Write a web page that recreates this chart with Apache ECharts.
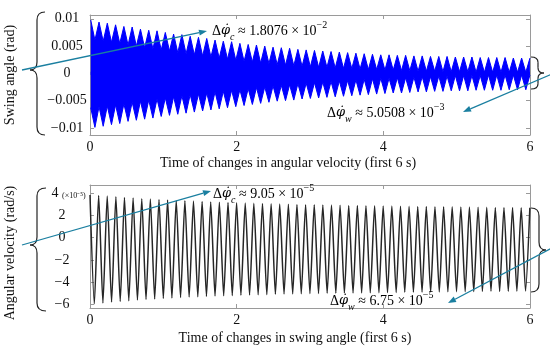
<!DOCTYPE html>
<html><head><meta charset="utf-8">
<script src="https://cdn.jsdelivr.net/npm/echarts@6/dist/echarts.min.js"></script>
<style>html,body{margin:0;padding:0;background:#fff}#c{width:550px;height:351px}</style>
</head><body><div id="c"></div>
<script>
// ---- Top panel: swing angle (rad), upper / lower edges of the blue band ----
const swingPeakTimes = [0.010,0.123,0.236,0.349,0.462,0.575,0.688,0.801,0.914,1.027,1.140,1.253,1.366,1.479,1.592,1.705,1.818,1.931,2.044,2.157,2.270,2.383,2.496,2.609,2.722,2.835,2.948,3.061,3.174,3.287,3.400,3.513,3.626,3.739,3.852,3.965,4.078,4.191,4.304,4.417,4.530,4.643,4.756,4.869,4.982,5.095,5.208,5.321,5.434,5.547,5.660,5.773,5.886,5.999];
const swingTroughTimes = [0.067,0.180,0.293,0.406,0.519,0.632,0.745,0.858,0.971,1.084,1.197,1.310,1.423,1.536,1.649,1.762,1.875,1.988,2.101,2.214,2.327,2.440,2.553,2.666,2.779,2.892,3.005,3.118,3.231,3.344,3.457,3.570,3.683,3.796,3.909,4.022,4.135,4.248,4.361,4.474,4.587,4.700,4.813,4.926,5.039,5.152,5.265,5.378,5.491,5.604,5.717,5.830,5.943];
const swingUpperAtPeaks = [0.0098,0.0094,0.0092,0.0089,0.0086,0.0085,0.0081,0.0079,0.0078,0.0075,0.0072,0.0071,0.0068,0.0066,0.0064,0.0061,0.0059,0.0058,0.0055,0.0053,0.0052,0.0050,0.0048,0.0047,0.0046,0.0044,0.0043,0.0042,0.0041,0.0040,0.0039,0.0038,0.0037,0.0036,0.0035,0.0034,0.0034,0.0033,0.0033,0.0032,0.0032,0.0031,0.0031,0.0031,0.0030,0.0030,0.0030,0.0029,0.0029,0.0029,0.0029,0.0028,0.0028,0.0028];
const swingUpperAtTroughs = [0.0061,0.0059,0.0057,0.0055,0.0052,0.0050,0.0047,0.0045,0.0043,0.0041,0.0038,0.0036,0.0034,0.0032,0.0030,0.0028,0.0026,0.0024,0.0022,0.0021,0.0019,0.0018,0.0016,0.0015,0.0014,0.0013,0.0012,0.0011,0.0011,0.0010,0.0009,0.0009,0.0008,0.0007,0.0007,0.0006,0.0006,0.0005,0.0005,0.0004,0.0004,0.0004,0.0003,0.0003,0.0003,0.0003,0.0002,0.0002,0.0002,0.0002,0.0002,0.0002,0.0002];
const swingLowerAtPeaks = [-0.0063,-0.0061,-0.0060,-0.0058,-0.0056,-0.0053,-0.0051,-0.0049,-0.0047,-0.0045,-0.0043,-0.0041,-0.0039,-0.0038,-0.0036,-0.0034,-0.0033,-0.0031,-0.0030,-0.0028,-0.0026,-0.0025,-0.0023,-0.0022,-0.0021,-0.0019,-0.0018,-0.0017,-0.0016,-0.0015,-0.0014,-0.0013,-0.0012,-0.0011,-0.0010,-0.0009,-0.0009,-0.0008,-0.0008,-0.0007,-0.0006,-0.0006,-0.0005,-0.0005,-0.0004,-0.0004,-0.0004,-0.0004,-0.0003,-0.0003,-0.0003,-0.0003,-0.0003,-0.0003];
const swingLowerAtTroughs = [-0.0099,-0.0097,-0.0094,-0.0092,-0.0088,-0.0086,-0.0084,-0.0082,-0.0079,-0.0077,-0.0075,-0.0073,-0.0071,-0.0069,-0.0067,-0.0065,-0.0063,-0.0061,-0.0059,-0.0057,-0.0055,-0.0053,-0.0051,-0.0050,-0.0049,-0.0047,-0.0046,-0.0045,-0.0044,-0.0043,-0.0042,-0.0041,-0.0040,-0.0039,-0.0038,-0.0037,-0.0036,-0.0036,-0.0035,-0.0034,-0.0034,-0.0033,-0.0033,-0.0032,-0.0032,-0.0032,-0.0031,-0.0031,-0.0031,-0.0031,-0.0030,-0.0030,-0.0030];

// ---- Bottom panel: angular velocity (x 1e-5 rad/s) ----
const velPeakTimes = [0.000,0.118,0.235,0.353,0.470,0.588,0.706,0.823,0.941,1.058,1.176,1.294,1.411,1.529,1.646,1.764,1.882,1.999,2.117,2.234,2.352,2.470,2.587,2.705,2.822,2.940,3.058,3.175,3.293,3.410,3.528,3.646,3.763,3.881,3.998,4.116,4.234,4.351,4.469,4.586,4.704,4.822,4.939,5.057,5.174,5.292,5.410,5.527,5.645,5.762,5.880,5.998];
const velTroughTimes = [0.059,0.176,0.294,0.412,0.529,0.647,0.764,0.882,1.000,1.117,1.235,1.352,1.470,1.588,1.705,1.823,1.940,2.058,2.176,2.293,2.411,2.528,2.646,2.764,2.881,2.999,3.116,3.234,3.352,3.469,3.587,3.704,3.822,3.940,4.057,4.175,4.292,4.410,4.528,4.645,4.763,4.880,4.998,5.116,5.233,5.351,5.468,5.586,5.704,5.821,5.939];
const velPeaks = [3.85,3.8,3.75,3.7,3.62,3.58,3.52,3.48,3.45,3.4,3.36,3.33,3.3,3.26,3.22,3.2,3.17,3.14,3.12,3.1,3.08,3.05,3.03,3.02,3.0,2.98,2.97,2.95,2.94,2.93,2.91,2.9,2.89,2.87,2.86,2.85,2.84,2.83,2.82,2.81,2.8,2.79,2.78,2.77,2.76,2.75,2.74,2.73,2.73,2.72,2.71,2.7];
const velTroughs = [-5.95,-5.88,-5.8,-5.74,-5.68,-5.62,-5.57,-5.52,-5.47,-5.43,-5.39,-5.35,-5.32,-5.29,-5.26,-5.23,-5.2,-5.18,-5.16,-5.14,-5.12,-5.1,-5.08,-5.06,-5.05,-5.03,-5.02,-5.01,-5.0,-4.99,-4.98,-4.97,-4.96,-4.95,-4.94,-4.93,-4.92,-4.91,-4.9,-4.89,-4.88,-4.87,-4.86,-4.86,-4.85,-4.84,-4.83,-4.83,-4.82,-4.81,-4.8];

const swingTicks = [-0.01,-0.005,0,0.005,0.01];
const velTicks = [-6,-4,-2,0,2,4];

function interleave(tA, vA, tB, vB) {
  const out = [];
  for (let i = 0; i < tA.length; i++) {
    out.push([tA[i], vA[i]]);
    if (i < tB.length) out.push([tB[i], vB[i]]);
  }
  return out;
}
const upperEdge = interleave(swingPeakTimes, swingUpperAtPeaks, swingTroughTimes, swingUpperAtTroughs);
const lowerEdge = interleave(swingPeakTimes, swingLowerAtPeaks, swingTroughTimes, swingLowerAtTroughs);
const velData = interleave(velPeakTimes, velPeaks, velTroughTimes, velTroughs);

const SERIF = "'Liberation Serif','Times New Roman',serif";
const frameCol = '#9a9a9a';
const teal = '#1a7fa0';
const minus = v => (v < 0 ? '\u2212' : '') + String(Math.abs(v));

function xAx(grid, pos, name, pad, gap) {
  const a = {
    type: 'value', gridIndex: grid, position: pos, min: 0, max: 6, interval: 2,
    axisLine: {show: true, onZero: false, lineStyle: {color: frameCol, width: 1}},
    axisTick: {show: true, inside: true, length: 4, lineStyle: {color: frameCol}},
    splitLine: {show: false},
    axisLabel: {show: pos === 'bottom', margin: 5, color: '#111', fontFamily: SERIF, fontSize: 14}
  };
  if (name) {
    a.name = name; a.nameLocation = 'middle'; a.nameGap = gap;
    a.nameTextStyle = {fontFamily: SERIF, fontSize: 14, color: '#111', padding: pad};
  }
  return a;
}
function yAx(grid, pos, min, max, ticks, opts) {
  const a = {
    type: 'value', gridIndex: grid, position: pos, min: min, max: max,
    axisLine: {show: true, onZero: false, lineStyle: {color: frameCol, width: 1}},
    axisTick: {show: true, inside: true, length: 4, lineStyle: {color: frameCol}, customValues: ticks},
    splitLine: {show: false},
    axisLabel: {show: false, customValues: ticks}
  };
  return Object.assign(a, opts || {});
}

const option = {
  animation: false,
  backgroundColor: '#fff',
  grid: [
    {left: 90, top: 15, width: 440, height: 120, containLabel: false, outerBoundsMode: 'none'},
    {left: 90, top: 185, width: 440, height: 123, containLabel: false, outerBoundsMode: 'none'}
  ],
  xAxis: [
    xAx(0, 'bottom', 'Time of changes in angular velocity (first 6 s)', [0, 44, 0, 0], 21),
    xAx(0, 'top'),
    xAx(1, 'bottom', 'Time of changes in swing angle (first 6 s)', [0, 30, 0, 0], 23),
    xAx(1, 'top')
  ],
  yAxis: [
    yAx(0, 'left', -0.0113, 0.0107, swingTicks, {
      axisLabel: {show: true, customValues: swingTicks, align: 'center', margin: 23,
        color: '#111', fontFamily: SERIF, fontSize: 14, formatter: v => minus(v)},
      name: 'Swing angle (rad)', nameLocation: 'middle', nameRotate: 90, nameGap: 73,
      nameTextStyle: {fontFamily: SERIF, fontSize: 14, color: '#111'}
    }),
    yAx(0, 'right', -0.0113, 0.0107, swingTicks),
    yAx(1, 'left', -6.33, 4.75, velTicks, {
      axisLabel: {show: true, customValues: velTicks, align: 'center', margin: 28,
        color: '#111', fontFamily: SERIF, fontSize: 14,
        formatter: v => v === 4 ? '{f|4}' : minus(v),
        rich: {f: {fontFamily: SERIF, fontSize: 14, color: '#111', padding: [0, 14, 0, 0]}}},
      name: 'Angular velocity (rad/s)', nameLocation: 'middle', nameRotate: 90, nameGap: 73,
      nameTextStyle: {fontFamily: SERIF, fontSize: 14, color: '#111', padding: [0, 13, 0, 0]}
    }),
    yAx(1, 'right', -6.33, 4.75, velTicks)
  ],
  series: [
    {type: 'line', xAxisIndex: 0, yAxisIndex: 0, data: upperEdge, symbol: 'none', silent: true,
      lineStyle: {color: '#0000ff', width: 1}, areaStyle: {color: '#0000ff', opacity: 1, origin: -0.0003}},
    {type: 'line', xAxisIndex: 0, yAxisIndex: 0, data: lowerEdge, symbol: 'none', silent: true,
      lineStyle: {color: '#0000ff', width: 1}, areaStyle: {color: '#0000ff', opacity: 1, origin: 0.0003}},
    {type: 'line', xAxisIndex: 2, yAxisIndex: 2, data: velData, symbol: 'none', silent: true, smooth: 0.22,
      lineStyle: {color: '#262626', width: 1.5}}
  ]
};

// ---- annotations (braces, arrows, texts) ----
function arrow(x1, y1, x2, y2) {
  const ang = Math.atan2(y2 - y1, x2 - x1), L = 8, W = 3;
  const bx = x2 - L * Math.cos(ang), by = y2 - L * Math.sin(ang);
  const px = -Math.sin(ang) * W, py = Math.cos(ang) * W;
  return [
    {type: 'line', z: 100, shape: {x1: x1, y1: y1, x2: bx, y2: by}, style: {stroke: teal, lineWidth: 1.3}},
    {type: 'polygon', z: 100, shape: {points: [[x2, y2], [bx + px, by + py], [bx - px, by - py]]}, style: {fill: teal}}
  ];
}
// brace: xs = stem x, xe = hook end x, xc = cusp x, y0 top, ym middle, y1 bottom
function brace(xs, xe, xc, y0, ym, y1) {
  const st = {stroke: '#222', lineWidth: 1.2, fill: null};
  const r = Math.min(8, (ym - y0) / 3);
  const seg = (a) => Object.assign({z: 100, style: st}, a);
  return [
    seg({type: 'bezierCurve', shape: {x1: xe, y1: y0, cpx1: xs, cpy1: y0, x2: xs, y2: y0 + r}}),
    seg({type: 'line', shape: {x1: xs, y1: y0 + r, x2: xs, y2: ym - r}}),
    seg({type: 'bezierCurve', shape: {x1: xs, y1: ym - r, cpx1: xs, cpy1: ym, x2: xc, y2: ym}}),
    seg({type: 'bezierCurve', shape: {x1: xc, y1: ym, cpx1: xs, cpy1: ym, x2: xs, y2: ym + r}}),
    seg({type: 'line', shape: {x1: xs, y1: ym + r, x2: xs, y2: y1 - r}}),
    seg({type: 'bezierCurve', shape: {x1: xs, y1: y1 - r, cpx1: xs, cpy1: y1, x2: xe, y2: y1}})
  ];
}
const rich = {
  m: {fontFamily: SERIF, fontSize: 14, color: '#111', lineHeight: 22},
  f: {fontFamily: "'DejaVu Serif',serif", fontSize: 13, fontStyle: 'italic', color: '#111', lineHeight: 22},
  s: {fontFamily: SERIF, fontSize: 10, fontStyle: 'italic', color: '#111', lineHeight: 10, verticalAlign: 'bottom'},
  p: {fontFamily: SERIF, fontSize: 10, color: '#111', lineHeight: 10, verticalAlign: 'top'}
};
function label(x, y, sub, rest, sup) {
  return {type: 'text', z: 100, x: x, y: y,
    style: {text: '{m|\u0394}{f|\u03C6\u0307}{s|' + sub + '}{m| \u2248 ' + rest + ' \u00D7 10}{p|\u2212' + sup + '}',
      rich: rich, verticalAlign: 'middle', align: 'left'}};
}
option.graphic = [
  ...brace(37, 45, 30, 12, 70, 135),
  ...brace(37, 46, 30, 188, 245, 311),
  ...brace(538, 531, 544, 57, 73, 89),
  ...brace(539, 531, 546, 208, 250, 292),
  ...arrow(22, 70, 207, 31),
  ...arrow(552, 74, 463, 112),
  ...arrow(22, 245, 211, 191),
  ...arrow(552, 248, 448, 303),
  label(212, 31, 'c', '1.8076', '2'),
  label(327, 113, 'w', '5.0508', '3'),
  label(213, 194, 'c', '9.05', '5'),
  label(330, 301, 'w', '6.75', '5'),
  {type: 'text', z: 100, x: 62, y: 196, style: {text: '(\u00D710\u207B\u2075)', fontFamily: SERIF, fontSize: 8, fill: '#111', verticalAlign: 'middle'}}
];

const chart = echarts.init(document.getElementById('c'), null, {renderer: 'canvas'});
chart.setOption(option);
</script></body></html>
